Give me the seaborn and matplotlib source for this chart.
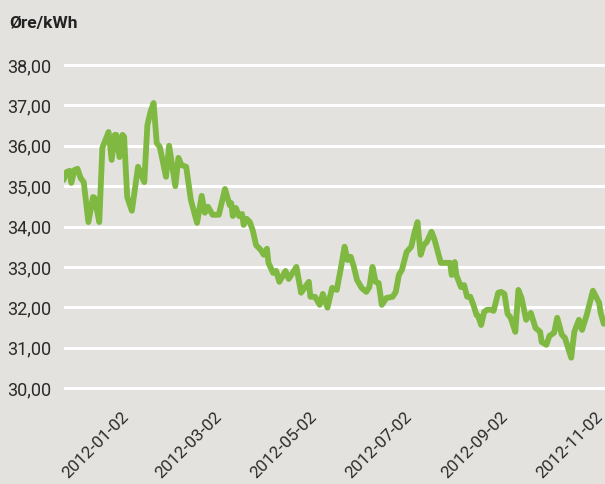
import pandas as pd
import matplotlib.pyplot as plt
import matplotlib.dates as mdates
import matplotlib.ticker as mticker
import seaborn as sns

# Price data (øre/kWh)
dates = [
    "2011-11-19", "2011-11-21", "2011-11-23", "2011-11-24", "2011-11-26", "2011-11-28",
    "2011-11-30", "2011-12-02", "2011-12-05", "2011-12-08", "2011-12-09", "2011-12-12",
    "2011-12-14", "2011-12-18", "2011-12-20", "2011-12-22", "2011-12-23", "2011-12-25",
    "2011-12-27", "2011-12-28", "2011-12-30", "2012-01-02", "2012-01-06", "2012-01-10",
    "2012-01-12", "2012-01-14", "2012-01-16", "2012-01-18", "2012-01-20", "2012-01-24",
    "2012-01-26", "2012-01-30", "2012-02-01", "2012-02-03", "2012-02-06", "2012-02-09",
    "2012-02-13", "2012-02-16", "2012-02-18", "2012-02-20", "2012-02-23", "2012-02-27",
    "2012-03-02", "2012-03-05", "2012-03-06", "2012-03-07", "2012-03-09", "2012-03-11",
    "2012-03-13", "2012-03-14", "2012-03-16", "2012-03-18", "2012-03-20", "2012-03-22",
    "2012-03-25", "2012-03-27", "2012-03-29", "2012-03-30", "2012-04-02", "2012-04-04",
    "2012-04-06", "2012-04-10", "2012-04-12", "2012-04-17", "2012-04-20", "2012-04-25",
    "2012-04-26", "2012-04-29", "2012-05-02", "2012-05-04", "2012-05-07", "2012-05-10",
    "2012-05-13", "2012-05-16", "2012-05-18", "2012-05-20", "2012-05-22", "2012-05-24",
    "2012-05-26", "2012-05-29", "2012-06-01", "2012-06-03", "2012-06-05", "2012-06-07",
    "2012-06-09", "2012-06-11", "2012-06-14", "2012-06-18", "2012-06-20", "2012-06-22",
    "2012-06-24", "2012-06-27", "2012-06-30", "2012-07-02", "2012-07-04", "2012-07-06",
    "2012-07-08", "2012-07-10", "2012-07-13", "2012-07-15", "2012-07-18", "2012-07-19",
    "2012-07-25", "2012-07-26", "2012-07-28", "2012-07-29", "2012-08-01", "2012-08-03",
    "2012-08-05", "2012-08-07", "2012-08-09", "2012-08-11", "2012-08-12", "2012-08-14",
    "2012-08-16", "2012-08-18", "2012-08-20", "2012-08-22", "2012-08-25", "2012-08-27",
    "2012-08-29", "2012-08-31", "2012-09-02", "2012-09-05", "2012-09-07", "2012-09-09",
    "2012-09-12", "2012-09-15", "2012-09-18", "2012-09-21", "2012-09-22", "2012-09-25",
    "2012-09-27", "2012-09-30", "2012-10-02", "2012-10-05", "2012-10-07", "2012-10-11",
    "2012-10-13", "2012-10-16", "2012-10-18", "2012-10-21", "2012-10-25", "2012-10-29",
    "2012-10-30", "2012-11-01",
]
prices = [
    35.15, 35.35, 35.38, 35.08, 35.40, 35.43,
    35.20, 35.10, 34.11, 34.73, 34.71, 34.11,
    35.95, 36.34, 35.65, 36.27, 36.27, 35.72,
    36.27, 36.22, 34.73, 34.39, 35.48, 35.10,
    36.51, 36.84, 37.06, 36.07, 35.97, 35.23,
    36.00, 35.00, 35.70, 35.52, 35.48, 34.66,
    34.09, 34.76, 34.34, 34.49, 34.29, 34.29,
    34.93, 34.53, 34.58, 34.26, 34.46, 34.26,
    34.31, 34.04, 34.19, 34.11, 33.89, 33.54,
    33.42, 33.30, 33.45, 33.10, 32.85, 32.90,
    32.63, 32.90, 32.70, 33.00, 32.36, 32.63,
    32.26, 32.26, 32.06, 32.33, 31.99, 32.48,
    32.43, 33.05, 33.50, 33.17, 33.25, 33.00,
    32.68, 32.48, 32.38, 32.50, 33.00, 32.63,
    32.60, 32.06, 32.23, 32.26, 32.38, 32.80,
    32.93, 33.37, 33.50, 33.84, 34.11, 33.30,
    33.54, 33.62, 33.87, 33.67, 33.25, 33.10,
    33.10, 32.80, 33.12, 32.80, 32.50, 32.55,
    32.26, 32.26, 32.06, 31.81, 31.79, 31.56,
    31.89, 31.94, 31.94, 31.91, 32.36, 32.38,
    32.33, 31.84, 31.74, 31.39, 32.43, 32.23,
    31.69, 31.86, 31.49, 31.39, 31.14, 31.07,
    31.29, 31.37, 31.74, 31.32, 31.24, 30.75,
    31.39, 31.69, 31.44, 31.81, 32.41, 32.11,
    31.86, 31.59,
]
tick_dates = ["2012-01-02", "2012-03-02", "2012-05-02", "2012-07-02", "2012-09-02", "2012-11-02"]
y_ticks = [30, 31, 32, 33, 34, 35, 36, 37, 38]

df = pd.DataFrame({"date": pd.to_datetime(dates), "price": prices})

bg = "#e3e2de"
sns.set_style("darkgrid", {"axes.facecolor": bg, "figure.facecolor": bg,
                           "grid.color": "white", "axes.edgecolor": bg})
plt.rcParams["font.family"] = ["Roboto", "DejaVu Sans"]

fig = plt.figure(figsize=(6.05, 4.84), dpi=100)
# axes run a little past the right edge so the last tick label is cut, as in the original
ax = fig.add_axes([0.1058, 0.1566, 0.9107, 0.7508])

sns.lineplot(data=df, x="date", y="price", color="#7fb942", linewidth=4.2, ax=ax)

ax.set_ylim(29.5, 38.5)
ax.set_xlim(pd.Timestamp("2011-11-19 07:00"), pd.Timestamp("2012-11-08 05:00"))
ax.set_yticks(y_ticks)
ax.yaxis.set_major_formatter(mticker.FuncFormatter(lambda v, p: f"{v:.2f}".replace(".", ",")))
ax.set_xticks(pd.to_datetime(tick_dates))
ax.xaxis.set_major_formatter(mdates.DateFormatter("%Y-%m-%d"))

ax.grid(axis="y", color="white", linewidth=2.2)
ax.grid(axis="x", visible=False)
for s in ax.spines.values():
    s.set_visible(False)

ax.tick_params(axis="y", length=0, pad=9, labelsize=13, labelcolor="#2b2b2b")
ax.tick_params(axis="x", length=0, pad=0.5, labelsize=12.3, labelcolor="#2b2b2b")
plt.setp(ax.get_xticklabels(), rotation=45, ha="right")

ax.set_xlabel("")
ax.set_ylabel("")
fig.text(0.015, 0.966, "Øre/kWh", fontsize=12.5, fontweight="bold", color="#222222", va="top")

plt.savefig("out.png", dpi=100, facecolor=bg)
plt.close()
